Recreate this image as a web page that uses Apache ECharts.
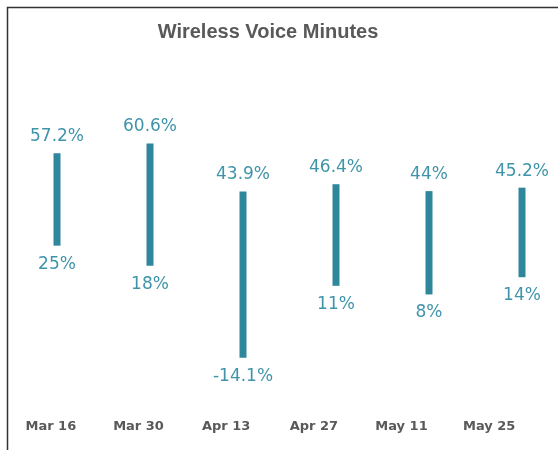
<!DOCTYPE html>
<html>
<head>
<meta charset="utf-8">
<script src="https://cdn.jsdelivr.net/npm/echarts@6/dist/echarts.min.js"></script>
<style>
  html, body { margin: 0; padding: 0; background: #fff; }
  #chart { width: 558px; height: 450px; }
</style>
</head>
<body>
<div id="chart"></div>
<script>
// dates on the x axis
var categories = ['Mar 16', 'Mar 30', 'Apr 13', 'Apr 27', 'May 11', 'May 25'];
// low / high end of each range (%)
var lowValues = [25, 18, -14.1, 11, 8, 14];
var highValues = [57.2, 60.6, 43.9, 46.4, 44, 45.2];

var barColor = '#2f879c';
var labelColor = '#3f94aa';

var rangeData = categories.map(function (c, i) {
  return [i, lowValues[i], highValues[i]];
});

var chart = echarts.init(document.getElementById('chart'));

var option = {
  animation: false,
  grid: [
    // bars: first/last category sit on the grid edges
    { left: 57, right: 36, top: 116.5, height: 258.3 },
    // axis labels (spaced a bit tighter than the bars)
    { left: 7, top: 300, width: 526, height: 108 }
  ],
  xAxis: [
    {
      type: 'category',
      gridIndex: 0,
      data: categories,
      boundaryGap: false,
      axisLine: { show: false },
      axisTick: { show: false },
      axisLabel: { show: false },
      splitLine: { show: false }
    },
    {
      type: 'category',
      gridIndex: 1,
      data: categories,
      axisLine: { show: false },
      axisTick: { show: false },
      axisLabel: {
        margin: 12,
        color: '#595959',
        fontFamily: 'DejaVu Sans',
        fontWeight: 'bold',
        fontSize: 13
      }
    }
  ],
  yAxis: [
    { type: 'value', gridIndex: 0, min: -20, max: 70, show: false },
    { type: 'value', gridIndex: 1, min: 0, max: 1, show: false }
  ],
  graphic: [
    {
      type: 'polyline',
      shape: { points: [[7.5, 450], [7.5, 7.5], [558, 7.5]] },
      style: { stroke: '#333', lineWidth: 1.5, fill: null }
    },
    {
      type: 'text',
      x: 268,
      y: 32,
      style: {
        text: 'Wireless Voice Minutes',
        fill: '#595959',
        font: 'bold 20px "Liberation Sans", Arial, sans-serif',
        textAlign: 'center',
        textVerticalAlign: 'middle'
      }
    }
  ],
  series: [
    {
      type: 'custom',
      xAxisIndex: 0,
      yAxisIndex: 0,
      data: rangeData,
      encode: { x: 0, y: [1, 2] },
      renderItem: function (params, api) {
        var lo = api.coord([api.value(0), api.value(1)]);
        var hi = api.coord([api.value(0), api.value(2)]);
        var w = 7;
        var font = '17px "DejaVu Sans", Verdana, sans-serif';
        return {
          type: 'group',
          children: [
            {
              type: 'rect',
              shape: { x: lo[0] - w / 2, y: hi[1], width: w, height: lo[1] - hi[1] },
              style: { fill: barColor }
            },
            {
              type: 'text',
              x: hi[0],
              y: hi[1] - 8,
              style: {
                text: api.value(2) + '%',
                fill: labelColor,
                font: font,
                textAlign: 'center',
                textVerticalAlign: 'bottom'
              }
            },
            {
              type: 'text',
              x: lo[0],
              y: lo[1] + 10,
              style: {
                text: api.value(1) + '%',
                fill: labelColor,
                font: font,
                textAlign: 'center',
                textVerticalAlign: 'top'
              }
            }
          ]
        };
      }
    }
  ]
};

chart.setOption(option);
</script>
</body>
</html>
